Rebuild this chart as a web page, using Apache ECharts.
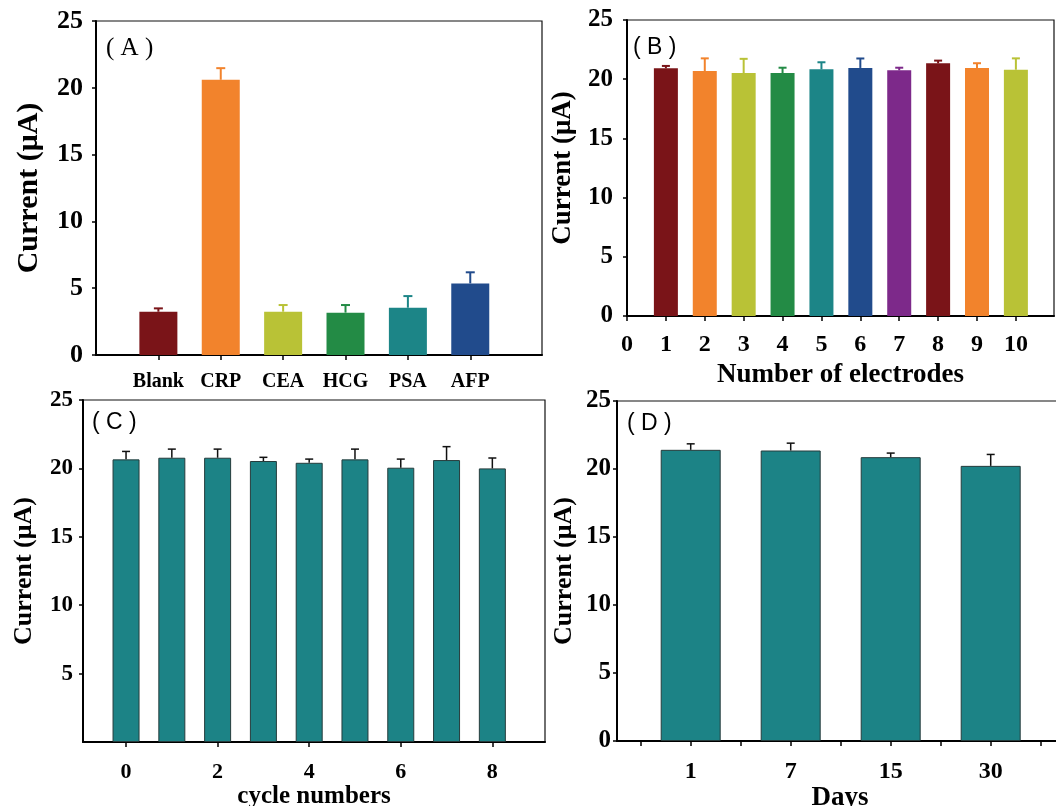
<!DOCTYPE html>
<html>
<head>
<meta charset="utf-8">
<script src="https://cdn.jsdelivr.net/npm/echarts@6/dist/echarts.min.js"></script>
<style>html,body{margin:0;padding:0;background:#fff;}#c{width:1056px;height:806px;}</style>
</head>
<body>
<div id="c"></div>
<script>
// ---- data ----
const catsA = ['Blank', 'CRP', 'CEA', 'HCG', 'PSA', 'AFP'];
const valsA = [3.24, 20.6, 3.24, 3.17, 3.54, 5.36];
const errA  = [0.25, 0.87, 0.5, 0.57, 0.87, 0.83];

const catsB = ['1', '2', '3', '4', '5', '6', '7', '8', '9', '10'];
const valsB = [20.92, 20.69, 20.52, 20.52, 20.83, 20.95, 20.75, 21.34, 20.95, 20.8];
const errB  = [0.2, 1.07, 1.2, 0.45, 0.6, 0.8, 0.22, 0.23, 0.4, 0.96];

const catsC = ['0', '1', '2', '3', '4', '5', '6', '7', '8'];
const valsC = [20.66, 20.78, 20.78, 20.54, 20.41, 20.66, 20.05, 20.61, 20.0];
const errC  = [0.58, 0.63, 0.63, 0.27, 0.27, 0.75, 0.63, 0.98, 0.76];
const tickLabelsC = ['0', '2', '4', '6', '8'];

const catsD = ['1', '7', '15', '30'];
const valsD = [21.41, 21.36, 20.87, 20.23];
const errD  = [0.44, 0.54, 0.3, 0.84];

const yTicks = [0, 5, 10, 15, 20, 25];
const yTitle = 'Current (μA)';
const xTitleB = 'Number of electrodes';
const xTitleC = 'cycle numbers';
const xTitleD = 'Days';
const panelLabels = ['( A )', '( B )', '( C )', '( D )'];

// ---- styles ----
const paletteA = ['#7a1418', '#f2832c', '#b9c236', '#238b45', '#1c8587', '#214b8c'];
const paletteB = ['#7a1418', '#f2832c', '#b9c236', '#238b45', '#1c8587', '#214b8c', '#7d298a', '#7a1418', '#f2832c', '#b9c236'];
const teal = '#1c8386';
const serif = "'Liberation Serif', 'Times New Roman', serif";
const sans = "'Liberation Sans', Arial, sans-serif";

const chart = echarts.init(document.getElementById('c'));

function yAxis(gi, opts) {
  const vals = opts.hideZero ? yTicks.filter(v => v !== 0) : yTicks;
  return {
    gridIndex: gi, type: 'value', min: 0, max: 25, interval: 5,
    name: yTitle, nameLocation: 'middle', nameGap: opts.nameGap, nameRotate: 90,
    nameTextStyle: { fontFamily: serif, fontWeight: 'bold', fontSize: opts.nameSize, color: '#000' },
    axisLine: { show: true, onZero: false, lineStyle: { color: '#000', width: 2 } },
    axisTick: { show: true, length: 4, lineStyle: { color: '#000', width: 1.5 }, customValues: vals },
    axisLabel: { show: true, margin: opts.margin, fontFamily: serif, fontWeight: 'bold', fontSize: opts.labelSize, color: '#000',
      customValues: vals },
    splitLine: { show: false }
  };
}

function xAxis(gi, opts) {
  return {
    gridIndex: gi, type: 'value', min: opts.min, max: opts.max, interval: 0.5,
    name: opts.name || '', nameLocation: 'middle', nameGap: opts.nameGap || 0,
    nameTextStyle: { fontFamily: serif, fontWeight: 'bold', fontSize: opts.nameSize || 20, color: '#000' },
    axisLine: { show: true, onZero: false, lineStyle: { color: '#000', width: 2 } },
    axisTick: { show: true, length: 5, lineStyle: { color: '#000', width: 1.5 }, customValues: opts.ticks },
    axisLabel: { show: true, margin: opts.margin, fontFamily: serif, fontWeight: 'bold', fontSize: opts.labelSize, color: '#000',
      customValues: opts.labelPos, formatter: opts.formatter },
    splitLine: { show: false }
  };
}

function errSeries(xi, yi, data, colorFn, lw, cap) {
  return {
    type: 'custom', xAxisIndex: xi, yAxisIndex: yi, z: 5, data: data,
    renderItem: function (params, api) {
      const x = api.value(0), y = api.value(1), e = api.value(2);
      const p0 = api.coord([x, y]);
      const p1 = api.coord([x, y + e]);
      const c = colorFn(params.dataIndex);
      return {
        type: 'group', children: [
          { type: 'line', shape: { x1: p0[0], y1: p0[1], x2: p1[0], y2: p1[1] }, style: { stroke: c, lineWidth: lw } },
          { type: 'line', shape: { x1: p1[0] - cap, y1: p1[1], x2: p1[0] + cap, y2: p1[1] }, style: { stroke: c, lineWidth: lw } }
        ]
      };
    }
  };
}

const gridStyle = { show: true, borderColor: '#111', borderWidth: 1.2, backgroundColor: 'transparent',
  containLabel: false, outerBoundsMode: 'none' };

const option = {
  backgroundColor: '#fff',
  animation: false,
  grid: [
    Object.assign({ left: 96, top: 21, width: 446, height: 334 }, gridStyle),
    Object.assign({ left: 627, top: 20, width: 427, height: 296 }, gridStyle),
    Object.assign({ left: 83, top: 400, width: 462, height: 342 }, gridStyle),
    Object.assign({ left: 617, top: 401, width: 446, height: 340 }, gridStyle)
  ],
  xAxis: [
    xAxis(0, { min: 0, max: 7.15, ticks: catsA.map((c, i) => i + 1), labelPos: catsA.map((c, i) => i + 1),
      formatter: v => catsA[Math.round(v) - 1], margin: 17, labelSize: 20 }),
    xAxis(1, { min: 0, max: 10.98, ticks: [0].concat(catsB.map((c, i) => i + 1)), labelPos: [0].concat(catsB.map((c, i) => i + 1)),
      formatter: v => (v === 0 ? '0' : catsB[Math.round(v) - 1]), margin: 17, labelSize: 24,
      name: xTitleB, nameGap: 46, nameSize: 27 }),
    xAxis(2, { min: -0.94, max: 9.15, ticks: tickLabelsC.map(Number), labelPos: tickLabelsC.map(Number),
      formatter: v => String(Math.round(v)), margin: 19, labelSize: 22,
      name: xTitleC, nameGap: 36, nameSize: 25 }),
    xAxis(3, { min: -0.737, max: 3.723, ticks: [-0.5, 0, 0.5, 1, 1.5, 2, 2.5, 3, 3.5], labelPos: catsD.map((c, i) => i),
      formatter: v => catsD[Math.round(v)], margin: 19, labelSize: 24,
      name: xTitleD, nameGap: 35, nameSize: 27 })
  ],
  yAxis: [
    yAxis(0, { nameGap: 52, nameSize: 30, margin: 13, labelSize: 26 }),
    yAxis(1, { nameGap: 50, nameSize: 27, margin: 14, labelSize: 25 }),
    yAxis(2, { nameGap: 46, nameSize: 26, margin: 10, labelSize: 23, hideZero: true }),
    yAxis(3, { nameGap: 40, nameSize: 26, margin: 6, labelSize: 25 })
  ],
  graphic: [
    { type: 'text', left: 106, top: 36, style: { text: panelLabels[0], font: "25px " + serif, fill: '#000' } },
    { type: 'text', left: 633, top: 36, style: { text: panelLabels[1], font: "23px " + sans, fill: '#000' } },
    { type: 'text', left: 92, top: 411, style: { text: panelLabels[2], font: "23px " + sans, fill: '#000' } },
    { type: 'text', left: 627, top: 412, style: { text: panelLabels[3], font: "23px " + sans, fill: '#000' } }
  ],
  series: [
    { type: 'bar', xAxisIndex: 0, yAxisIndex: 0, barWidth: 38,
      data: valsA.map((v, i) => ({ value: [i + 1, v], itemStyle: { color: paletteA[i] } })) },
    errSeries(0, 0, valsA.map((v, i) => [i + 1, v, errA[i]]), i => paletteA[i], 2, 4.5),

    { type: 'bar', xAxisIndex: 1, yAxisIndex: 1, barWidth: 24,
      data: valsB.map((v, i) => ({ value: [i + 1, v], itemStyle: { color: paletteB[i] } })) },
    errSeries(1, 1, valsB.map((v, i) => [i + 1, v, errB[i]]), i => paletteB[i], 2, 4),

    { type: 'bar', xAxisIndex: 2, yAxisIndex: 2, barWidth: 27,
      itemStyle: { color: teal, borderColor: '#263c3c', borderWidth: 1 },
      data: valsC.map((v, i) => [i, v]) },
    errSeries(2, 2, valsC.map((v, i) => [i, v, errC[i]]), () => '#111', 1.5, 4),

    { type: 'bar', xAxisIndex: 3, yAxisIndex: 3, barWidth: 60,
      itemStyle: { color: teal, borderColor: '#263c3c', borderWidth: 1 },
      data: valsD.map((v, i) => [i, v]) },
    errSeries(3, 3, valsD.map((v, i) => [i, v, errD[i]]), () => '#111', 1.5, 4)
  ]
};
chart.setOption(option);
</script>
</body>
</html>
